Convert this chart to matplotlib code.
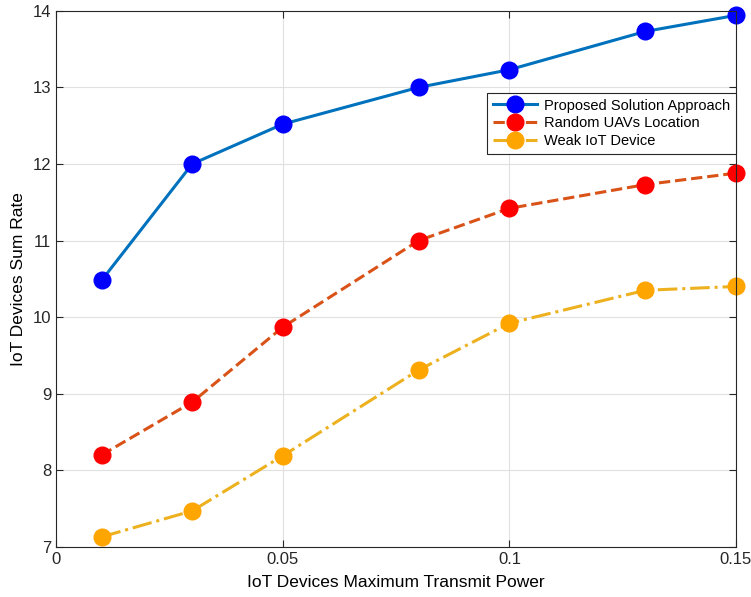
import matplotlib
matplotlib.use("Agg")
import matplotlib.pyplot as plt

plt.rcParams["font.family"] = ["Liberation Sans", "DejaVu Sans"]

power = [0.01, 0.03, 0.05, 0.08, 0.1, 0.13, 0.15]
proposed = [10.48, 12.00, 12.52, 13.00, 13.23, 13.73, 13.94]
random_uav = [8.20, 8.89, 9.87, 11.00, 11.42, 11.73, 11.88]
weak_iot = [7.13, 7.47, 8.19, 9.31, 9.92, 10.35, 10.40]

fig = plt.figure(figsize=(7.51, 5.97), dpi=100)
ax = fig.add_axes([0.075, 0.084, 0.905, 0.898])

ax.plot(power, proposed, "-", color="#0072BD", lw=2.2, marker="o",
        ms=12, mfc="#0000FF", mec="#0000FF", clip_on=False,
        label="Proposed Solution Approach")
ax.plot(power, random_uav, "--", color="#D95319", lw=2.2, marker="o",
        ms=12, mfc="#FF0000", mec="#FF0000", clip_on=False,
        label="Random UAVs Location")
ax.plot(power, weak_iot, "-.", color="#EDB120", lw=2.2, marker="o",
        ms=12, mfc="#FFA500", mec="#FFA500", clip_on=False,
        label="Weak IoT Device")

ax.set_xlim(0, 0.15)
ax.set_ylim(7, 14)
ax.set_xticks([0, 0.05, 0.1, 0.15])
ax.set_xticklabels(["0", "0.05", "0.1", "0.15"])
ax.set_yticks(range(7, 15))
ax.grid(True, color="#e0e0e0", lw=0.8)
ax.set_axisbelow(True)
ax.tick_params(direction="in", top=True, right=True, labelsize=12,
               colors="#262626", length=5, width=0.8)
for s in ax.spines.values():
    s.set_color("#262626")
    s.set_linewidth(0.8)

ax.set_xlabel("IoT Devices Maximum Transmit Power", fontsize=12.5, labelpad=6)
ax.set_ylabel("IoT Devices Sum Rate", fontsize=12.5, labelpad=5)

leg = ax.legend(loc="upper right", bbox_to_anchor=(1.0, 0.847), fontsize=10.5,
                frameon=True, fancybox=False, edgecolor="#262626",
                handlelength=3.0, borderpad=0.4, labelspacing=0.25,
                handletextpad=0.5, borderaxespad=0, framealpha=1)
leg.get_frame().set_linewidth(0.8)

fig.savefig("out.png", dpi=100)
